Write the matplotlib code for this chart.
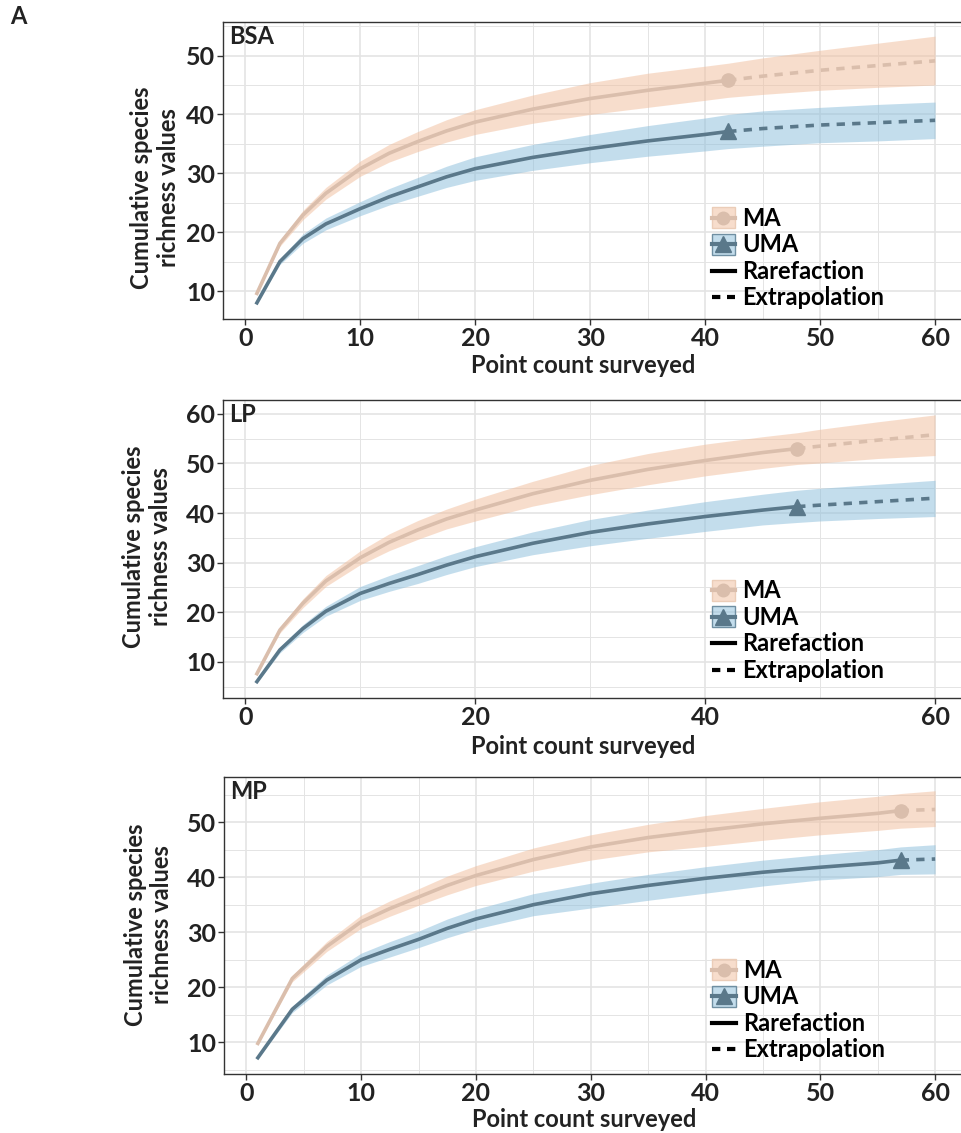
import matplotlib
matplotlib.use("Agg")
import matplotlib.pyplot as plt
from matplotlib.patches import Rectangle
from matplotlib.lines import Line2D
from matplotlib.ticker import MultipleLocator

plt.rcParams["font.family"] = ["Lato", "DejaVu Sans"]
plt.rcParams["font.weight"] = "bold"

# BSA panel
bsa_x = [1, 3, 5, 7, 10, 12.5, 15, 17.5, 20, 25, 30, 35, 40, 42, 45, 50, 55, 60]
bsa_obs = 42
bsa_ma = [9.6, 18.1, 22.9, 26.6, 30.8, 33.4, 35.4, 37.2, 38.7, 40.9, 42.7, 44.1, 45.3, 45.8, 46.5, 47.5, 48.3, 49.1]
bsa_ma_hi = [9.7, 18.6, 23.7, 27.6, 32.1, 34.9, 37.1, 39.1, 40.8, 43.3, 45.4, 47.0, 48.2, 48.7, 49.6, 50.9, 52.1, 53.3]
bsa_ma_lo = [9.5, 17.6, 22.1, 25.6, 29.5, 31.9, 33.7, 35.3, 36.6, 38.5, 40.0, 41.2, 42.4, 42.9, 43.4, 44.1, 44.6, 45.0]
bsa_uma = [8.0, 15.0, 18.9, 21.4, 24.0, 26.0, 27.7, 29.4, 30.8, 32.7, 34.2, 35.5, 36.6, 37.1, 37.6, 38.2, 38.6, 39.0]
bsa_uma_hi = [8.1, 15.5, 19.7, 22.4, 25.2, 27.4, 29.3, 31.2, 32.8, 34.9, 36.6, 38.1, 39.4, 40.0, 40.6, 41.2, 41.7, 42.1]
bsa_uma_lo = [7.9, 14.5, 18.1, 20.4, 22.8, 24.6, 26.1, 27.6, 28.8, 30.5, 31.8, 32.9, 33.8, 34.2, 34.6, 35.2, 35.5, 35.9]

# LP panel
lp_x = [1, 3, 5, 7, 10, 12.5, 15, 17.5, 20, 25, 30, 35, 40, 45, 48, 50, 55, 60]
lp_obs = 48
lp_ma = [7.6, 16.4, 21.8, 26.3, 31.0, 34.1, 36.6, 38.8, 40.6, 43.9, 46.6, 48.8, 50.6, 52.2, 53.0, 53.5, 54.7, 55.8]
lp_ma_hi = [7.8, 17.0, 22.7, 27.4, 32.4, 35.8, 38.5, 40.8, 42.8, 46.4, 49.6, 52.0, 53.9, 55.4, 56.2, 56.9, 58.4, 59.8]
lp_ma_lo = [7.4, 15.8, 20.9, 25.2, 29.6, 32.4, 34.7, 36.8, 38.4, 41.4, 43.7, 45.7, 47.5, 49.0, 49.8, 50.1, 51.0, 51.6]
lp_uma = [6.0, 12.4, 16.7, 20.2, 23.8, 25.8, 27.6, 29.5, 31.2, 33.9, 36.1, 37.8, 39.3, 40.6, 41.3, 41.6, 42.3, 43.0]
lp_uma_hi = [6.2, 13.0, 17.5, 21.2, 25.2, 27.4, 29.4, 31.4, 33.2, 36.2, 38.7, 40.6, 42.3, 43.8, 44.6, 45.0, 45.8, 46.6]
lp_uma_lo = [5.8, 11.8, 15.9, 19.2, 22.4, 24.2, 25.8, 27.6, 29.2, 31.6, 33.4, 34.9, 36.3, 37.6, 38.1, 38.4, 38.9, 39.3]

# MP panel
mp_x = [1, 4, 7, 10, 12.5, 15, 17.5, 20, 25, 30, 35, 40, 45, 50, 55, 57, 60]
mp_obs = 57
mp_ma = [9.8, 21.6, 27.4, 31.9, 34.3, 36.4, 38.5, 40.3, 43.2, 45.5, 47.2, 48.5, 49.7, 50.7, 51.6, 52.1, 52.3]
mp_ma_hi = [10.0, 22.2, 28.3, 33.1, 35.7, 37.9, 40.2, 42.1, 45.3, 47.7, 49.6, 51.2, 52.5, 53.7, 54.7, 55.2, 55.7]
mp_ma_lo = [9.6, 21.0, 26.5, 30.7, 32.9, 34.9, 36.8, 38.5, 41.1, 43.1, 44.6, 45.6, 46.7, 47.7, 48.5, 48.9, 49.2]
mp_uma = [7.2, 16.0, 21.3, 25.0, 26.9, 28.7, 30.7, 32.4, 35.0, 37.0, 38.5, 39.8, 40.9, 41.8, 42.6, 43.1, 43.3]
mp_uma_hi = [7.4, 16.6, 22.2, 26.2, 28.3, 30.2, 32.4, 34.2, 37.0, 38.9, 40.5, 41.9, 43.1, 44.1, 45.0, 45.5, 45.9]
mp_uma_lo = [7.0, 15.4, 20.4, 23.8, 25.5, 27.2, 29.0, 30.6, 33.0, 34.4, 35.8, 37.1, 38.4, 39.5, 40.1, 40.5, 40.6]

MA_LINE, MA_FILL = "#DABEAC", "#F1BD9B"
UMA_LINE, UMA_FILL = "#5A788A", "#89BDDB"
GRID = "#E4E4E4"
INK = "#222222"
FS = 17
TICK_FS = 18

panels = [
    dict(name="BSA", x=bsa_x, obs=bsa_obs,
         ma=(bsa_ma, bsa_ma_lo, bsa_ma_hi), uma=(bsa_uma, bsa_uma_lo, bsa_uma_hi),
         pos=[223 / 962, 814 / 1133, 746 / 962, 297 / 1133], ylim=(5.25, 55.7),
         xmaj=10, ylab_x=-0.058, ylab_y=0.443, xlab_y=-0.118, leg_y=0.205),
    dict(name="LP", x=lp_x, obs=lp_obs,
         ma=(lp_ma, lp_ma_lo, lp_ma_hi), uma=(lp_uma, lp_uma_lo, lp_uma_hi),
         pos=[223 / 962, 435 / 1133, 746 / 962, 298 / 1133], ylim=(2.7, 62.8),
         xmaj=20, ylab_x=-0.068, ylab_y=0.508, xlab_y=-0.124, leg_y=0.226),
    dict(name="MP", x=mp_x, obs=mp_obs,
         ma=(mp_ma, mp_ma_lo, mp_ma_hi), uma=(mp_uma, mp_uma_lo, mp_uma_hi),
         pos=[224 / 962, 59 / 1133, 745 / 962, 297 / 1133], ylim=(4.24, 58.2),
         xmaj=10, ylab_x=-0.068, ylab_y=0.502, xlab_y=-0.114, leg_y=0.215),
]


class Key:
    def __init__(self, fill=None, edge=None, line=None, marker=None, ms=0, ls="-"):
        self.fill, self.edge, self.line = fill, edge, line
        self.marker, self.ms, self.ls = marker, ms, ls


class KeyHandler:
    def legend_artist(self, legend, h, fontsize, handlebox):
        x0, y0 = -handlebox.xdescent, -handlebox.ydescent
        w, ht = handlebox.width, handlebox.height
        tr = handlebox.get_transform()
        if h.fill is not None:
            handlebox.add_artist(Rectangle((x0, y0), w, ht, facecolor=h.fill, alpha=0.5,
                                           edgecolor="none", transform=tr))
            handlebox.add_artist(Rectangle((x0, y0), w, ht, facecolor="none",
                                           edgecolor=h.edge, lw=1, transform=tr))
        handlebox.add_artist(Line2D([x0, x0 + w], [y0 + ht / 2] * 2, color=h.line,
                                    lw=3, linestyle=h.ls, transform=tr))
        if h.marker:
            handlebox.add_artist(Line2D([x0 + w / 2], [y0 + ht / 2], marker=h.marker,
                                        ms=h.ms, color=h.line, linestyle="none",
                                        transform=tr))
        return None


def draw_series(ax, x, obs, vals, line_c, fill_c, marker, ms):
    mean, lo, hi = vals
    ax.fill_between(x, lo, hi, color=fill_c, alpha=0.5, lw=0, zorder=2)
    k = x.index(obs)
    ax.plot(x[:k + 1], mean[:k + 1], color=line_c, lw=2.6, zorder=3,
            solid_joinstyle="round")
    ax.plot(x[k:], mean[k:], color=line_c, lw=2.6, zorder=3,
            linestyle=(0, (2.3, 2.0)))
    ax.plot([obs], [mean[k]], marker=marker, color=line_c, ms=ms, zorder=4,
            linestyle="none")


fig = plt.figure(figsize=(9.62, 11.33), dpi=100)

for p in panels:
    ax = fig.add_axes(p["pos"])
    ax.set_xlim(-1.95, 62.95)
    ax.set_ylim(*p["ylim"])
    ax.xaxis.set_major_locator(MultipleLocator(p["xmaj"]))
    ax.xaxis.set_minor_locator(MultipleLocator(p["xmaj"] / 2))
    ax.yaxis.set_major_locator(MultipleLocator(10))
    ax.yaxis.set_minor_locator(MultipleLocator(5))
    ax.grid(True, which="major", color=GRID, lw=1.2, zorder=0)
    ax.grid(True, which="minor", color=GRID, lw=0.7, zorder=0)
    ax.set_axisbelow(True)
    ax.tick_params(which="major", length=4, width=1, color="#333333",
                   labelsize=TICK_FS, labelcolor=INK, pad=1.5)
    ax.tick_params(which="minor", length=0)
    for s in ax.spines.values():
        s.set_color("#333333")
        s.set_linewidth(1.0)

    draw_series(ax, p["x"], p["obs"], p["ma"], MA_LINE, MA_FILL, "o", 9.5)
    draw_series(ax, p["x"], p["obs"], p["uma"], UMA_LINE, UMA_FILL, "^", 12)

    ax.text(0.008, 0.99, p["name"], transform=ax.transAxes, ha="left", va="top",
            fontsize=FS, fontweight="bold", color=INK)

    ax.set_xlabel("Point count surveyed", fontsize=FS, fontweight="bold", color=INK)
    ax.xaxis.set_label_coords(0.483, p["xlab_y"])
    ax.set_ylabel("Cumulative species\nrichness values", fontsize=FS,
                  fontweight="bold", color=INK, linespacing=1.2)
    ax.yaxis.set_label_coords(p["ylab_x"], p["ylab_y"])

    keys = [Key(MA_FILL, "#EBCDB8", MA_LINE, "o", 9),
            Key(UMA_FILL, "#6F8FA2", UMA_LINE, "^", 12),
            Key(line="black"),
            Key(line="black", ls=(0, (2.0, 1.6)))]
    ax.legend(keys, ["MA", "UMA", "Rarefaction", "Extrapolation"],
              handler_map={Key: KeyHandler()},
              loc="center left", bbox_to_anchor=(0.655, p["leg_y"]),
              frameon=False, handlelength=1.0, handleheight=1.0,
              handletextpad=0.3, labelspacing=0.15, borderpad=0, borderaxespad=0,
              prop={"weight": "bold", "size": FS})

fig.text(10 / 962, 1 - 17 / 1133, "A", ha="left", va="center", fontsize=FS,
         fontweight="bold", color=INK)

fig.savefig("out.png", dpi=100)
